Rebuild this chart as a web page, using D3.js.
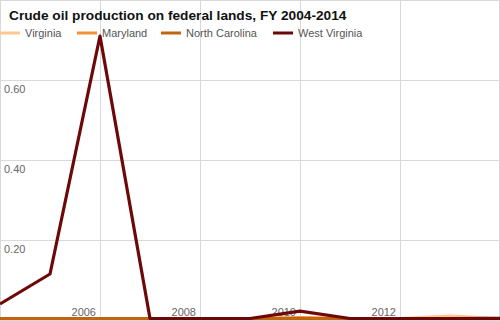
<!DOCTYPE html>
<html><head><meta charset="utf-8">
<script src="https://cdn.jsdelivr.net/npm/d3@7"></script>
<style>body{margin:0;background:#fff}svg{display:block}</style>
</head><body>
<script>
const years = [2004,2005,2006,2007,2008,2009,2010,2011,2012,2013,2014];
const seriesNames = ["Virginia","Maryland","North Carolina","West Virginia"];
const seriesColors = ["#fdc692","#f0923a","#c0640f","#6d0808"];
const virginia = [0,0,0,0,0,0,0,0,0,0.01,0];
const maryland = [0,0,0,0,0,0,0.006,0,0,0,0];
const northCarolina = [0,0,0,0,0,0,0,0,0,0,0];
const westVirginia = [0.04,0.115,0.71,0,0,0,0.022,0,0,0,0.004];
const yTicks = [0.2,0.4,0.6];
const xTickYears = [2006,2008,2010,2012];
const title = "Crude oil production on federal lands, FY 2004-2014";

const W=500,H=321;
const svg=d3.select("body").append("svg").attr("width",W).attr("height",H);
const x=d3.scaleLinear().domain([2004,2014]).range([0,500]);
const y=d3.scaleLinear().domain([0,0.8]).range([320,0]);
const font="Arial, 'Liberation Sans', sans-serif";

// gridlines
const g=svg.append("g");
g.selectAll("line.v").data([2004,2006,2008,2010,2012,2014]).join("line")
 .attr("x1",d=>Math.min(499.5,Math.round(x(d))+0.5)).attr("x2",d=>Math.min(499.5,Math.round(x(d))+0.5))
 .attr("y1",0).attr("y2",320).attr("stroke","#d9d9d9").attr("stroke-width",1);
g.selectAll("line.h").data([0,0.2,0.4,0.6,0.8]).join("line")
 .attr("x1",0).attr("x2",500).attr("y1",d=>Math.max(0.5,Math.round(y(d))+0.5)).attr("y2",d=>Math.max(0.5,Math.round(y(d))+0.5))
 .attr("stroke","#d9d9d9").attr("stroke-width",1);

// y labels
svg.selectAll("text.yl").data(yTicks).join("text")
 .attr("x",4).attr("y",d=>y(d)+13).text(d=>d3.format(".2f")(d))
 .attr("font-family",font).attr("font-size",11).attr("fill","#666");
// x labels
svg.selectAll("text.xl").data(xTickYears).join("text")
 .attr("x",d=>x(d)-4).attr("y",316).attr("text-anchor","end").text(d=>d)
 .attr("font-family",font).attr("font-size",11).attr("fill","#666");

// lines
const allSeries=[virginia,maryland,northCarolina,westVirginia];
const line=d3.line().x((d,i)=>x(years[i])).y(d=>Math.min(318.5,y(d)));
svg.selectAll("path.s").data(allSeries).join("path")
 .attr("d",d=>line(d)).attr("fill","none")
 .attr("stroke",(d,i)=>seriesColors[i]).attr("stroke-width",3.2).attr("stroke-linejoin","round");

// title
svg.append("text").attr("x",9).attr("y",20).text(title)
 .attr("font-family",font).attr("font-size",13.7).attr("font-weight","bold").attr("fill","#111");

// legend
const legX=[0,77,161,273];
const leg=svg.selectAll("g.leg").data(seriesNames).join("g").attr("transform",(d,i)=>`translate(${legX[i]},33)`);
leg.append("line").attr("x1",0).attr("x2",20).attr("y1",0).attr("y2",0)
 .attr("stroke",(d,i)=>seriesColors[i]).attr("stroke-width",3);
leg.append("text").attr("x",25).attr("y",4).text(d=>d)
 .attr("font-family",font).attr("font-size",11).attr("fill","#555");
</script>
</body></html>
